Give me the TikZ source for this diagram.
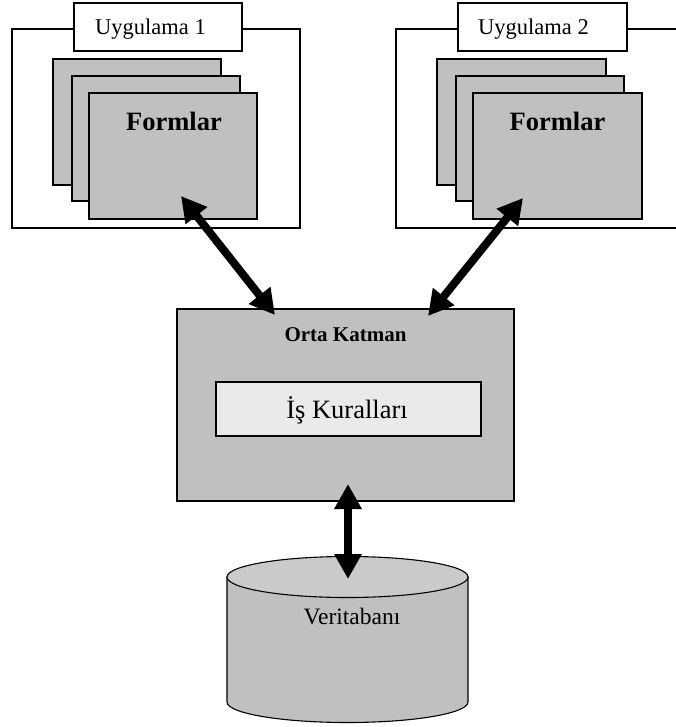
\documentclass[tikz,border=0pt]{standalone}
\usepackage{fontspec}
\setmainfont{Liberation Serif}
\usetikzlibrary{arrows.meta}

\definecolor{formgray}{HTML}{C0C0C0}
\definecolor{rulegray}{HTML}{EAEAEA}
\definecolor{dbtop}{HTML}{CACACA}

\tikzset{
  panel/.style={draw=black, line width=1.1pt, fill=white, inner sep=0pt, outer sep=0pt, anchor=north west},
  formbox/.style={panel, fill=formgray},
  rulebox/.style={panel, fill=rulegray},
  lbl/.style={inner sep=0pt, anchor=base},
  bigarrow/.style={line width=8pt,
    {Triangle[length=25pt,width=26pt]}-{Triangle[length=25pt,width=26pt]}},
}

\begin{document}
\begin{tikzpicture}[x=1pt,y=-1pt]
\useasboundingbox (0,0) rectangle (675,727);

% ---- application 1 ----
\node[panel, minimum width=288pt, minimum height=199pt] (app1) at (12,29) {};
\node[panel, minimum width=168pt, minimum height=48pt] (app1tag) at (74,3) {};
\node[lbl, anchor=base west, font=\fontsize{22.5}{26}\selectfont] (app1txt) at (95,35) {Uygulama 1};
\node[formbox, minimum width=168pt, minimum height=126pt] (f1a) at (53,59) {};
\node[formbox, minimum width=168pt, minimum height=125pt] (f1b) at (72,76) {};
\node[formbox, minimum width=168pt, minimum height=126pt] (f1c) at (89,93) {};
\node[lbl, font=\bfseries\fontsize{26.5}{30}\selectfont] (f1txt) at (174,131) {Formlar};

% ---- application 2 (frame runs off the right edge) ----
\coordinate (app2a) at (680,29);
\coordinate (app2b) at (680,228);
\draw[line width=1.1pt, fill=white] (app2a) -- (396,29) -- (396,228) -- (app2b);
\node[panel, minimum width=169pt, minimum height=48pt] (app2tag) at (458,3) {};
\node[lbl, anchor=base west, font=\fontsize{22.5}{26}\selectfont] (app2txt) at (478,35) {Uygulama 2};
\node[formbox, minimum width=169pt, minimum height=126pt] (f2a) at (437,59) {};
\node[formbox, minimum width=168pt, minimum height=125pt] (f2b) at (456,76) {};
\node[formbox, minimum width=169pt, minimum height=126pt] (f2c) at (473,93) {};
\node[lbl, font=\bfseries\fontsize{26.5}{30}\selectfont] (f2txt) at (557.5,131) {Formlar};

% ---- middle tier ----
\node[formbox, minimum width=337pt, minimum height=192pt] (mid) at (177,309) {};
\node[lbl, font=\bfseries\fontsize{21}{24}\selectfont] (midtxt) at (345.5,341.5) {Orta Katman};
\node[rulebox, minimum width=265pt, minimum height=54pt] (rules) at (216,382) {};
\node[lbl, font=\fontsize{26.5}{30}\selectfont] (rulestxt) at (347,418) {İş Kuralları};

% ---- database cylinder ----
\draw[line width=1.1pt, fill=formgray]
  (227,577) -- (227,702) arc[start angle=180, end angle=360, x radius=120.5pt, y radius=20.5pt]
  -- (468,577) -- cycle;
\draw[line width=1.1pt, fill=dbtop] (347.5,577) ellipse[x radius=120.5pt, y radius=20.5pt];
\node[lbl, font=\fontsize{23.5}{27}\selectfont] (dbtxt) at (352,624) {Veritabanı};

% ---- connector end points ----
\coordinate (f1end)  at (181,196);
\coordinate (m1end)  at (275,315);
\coordinate (f2end)  at (523,198);
\coordinate (m2end)  at (428,316);
\coordinate (m3end)  at (348,484);
\coordinate (dbend)  at (348,579);

\draw[bigarrow] (f1end) -- (m1end);
\draw[bigarrow] (f2end) -- (m2end);
\draw[bigarrow] (m3end) -- (dbend);
\end{tikzpicture}
\end{document}
